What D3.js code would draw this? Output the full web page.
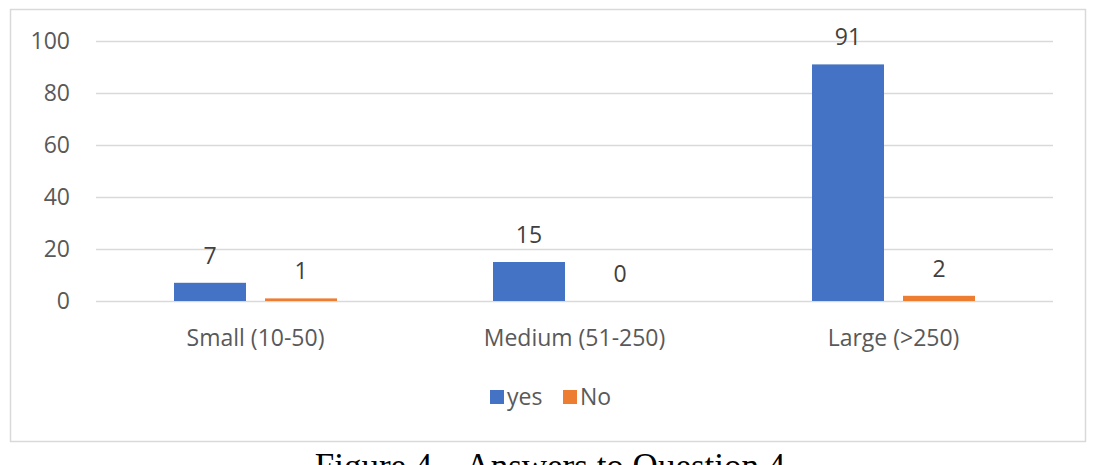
<!DOCTYPE html>
<html><head><meta charset="utf-8">
<script src="https://cdn.jsdelivr.net/npm/d3@7"></script>
<style>body{margin:0;background:#fff}svg{display:block}</style>
</head><body>
<script>
const categories = ["Small (10-50)", "Medium (51-250)", "Large (>250)"];
const seriesNames = ["yes", "No"];
const yesValues = [7, 15, 91];
const noValues = [1, 0, 2];
const yTicks = [0, 20, 40, 60, 80, 100];
const colors = ["#4472C4", "#ED7D31"];
const caption = "Figure 4 – Answers to Question 4";

(function () {
const W = 1097, H = 465;
const svg = d3.select("body").append("svg").attr("width", W).attr("height", H);
const font = "Open Sans, sans-serif";
const fs = 23;

// outer border
svg.append("rect").attr("x", 10.5).attr("y", 9.5).attr("width", 1075).attr("height", 432)
  .attr("fill", "#fff").attr("stroke", "#d9d9d9").attr("stroke-width", 1.5);

const pl = 96, pr = 1053, pt = 41, pb = 301;
const x = d3.scaleBand().domain(categories).range([pl, pr]);
const y = d3.scaleLinear().domain([0, 100]).range([pb, pt]);
const inner = 163;
const off = (x.bandwidth() - inner) / 2;
const xs = d3.scaleBand().domain(seriesNames).range([off, off + inner]).paddingInner(0.209);

// gridlines
svg.append("g").selectAll("line").data(yTicks).join("line")
  .attr("x1", pl).attr("x2", pr)
  .attr("y1", d => Math.round(y(d)) + 0.5).attr("y2", d => Math.round(y(d)) + 0.5)
  .attr("stroke", "#d9d9d9").attr("stroke-width", 1.3);

// y axis labels
const yAxis = d3.axisLeft(y).tickValues(yTicks).tickSize(0).tickPadding(0);
const gy = svg.append("g").attr("transform", "translate(70,0)").call(yAxis);
gy.select(".domain").remove();
gy.selectAll("text").attr("font-family", font).attr("font-size", fs).attr("fill", "#595959");

// x axis labels
const xAxis = d3.axisBottom(x).tickSize(0).tickPadding(0);
const gx = svg.append("g").attr("transform", `translate(0,${pb + 37})`).call(xAxis);
gx.select(".domain").remove();
gx.selectAll("text").attr("font-family", font).attr("font-size", fs).attr("fill", "#595959")
  .attr("y", 0).attr("dy", "0.35em");

const data = categories.map((c, i) => ({cat: c, vals: [yesValues[i], noValues[i]]}));
const groups = svg.append("g").selectAll("g").data(data).join("g")
  .attr("transform", d => `translate(${x(d.cat)},0)`);
groups.selectAll("rect").data(d => d.vals.map((v, j) => ({s: seriesNames[j], v, j}))).join("rect")
  .attr("x", d => xs(d.s)).attr("width", xs.bandwidth())
  .attr("y", d => y(d.v)).attr("height", d => y(0) - y(d.v))
  .attr("fill", d => colors[d.j]);
groups.selectAll("text").data(d => d.vals.map((v, j) => ({s: seriesNames[j], v, j}))).join("text")
  .attr("x", d => xs(d.s) + xs.bandwidth() / 2).attr("y", d => y(d.v) - 19)
  .attr("text-anchor", "middle").attr("font-family", font).attr("font-size", fs).attr("fill", "#404040")
  .text(d => d.v);

// legend
const lg = svg.append("g").attr("transform", "translate(490,397)");
const items = [{n: "yes", c: colors[0], x: 0}, {n: "No", c: colors[1], x: 73}];
items.forEach(it => {
  lg.append("rect").attr("x", it.x).attr("y", -7).attr("width", 14).attr("height", 14).attr("fill", it.c);
  lg.append("text").attr("x", it.x + 17).attr("y", 0).attr("dy", "0.35em")
    .attr("font-family", font).attr("font-size", fs).attr("fill", "#595959").text(it.n);
});

// caption (partially cut off)
svg.append("text").attr("x", 550).attr("y", 478).attr("text-anchor", "middle")
  .attr("font-family", "Liberation Serif, Times New Roman, serif").attr("font-size", 35).attr("fill", "#000")
  .text(caption);
})();
</script>
</body></html>
